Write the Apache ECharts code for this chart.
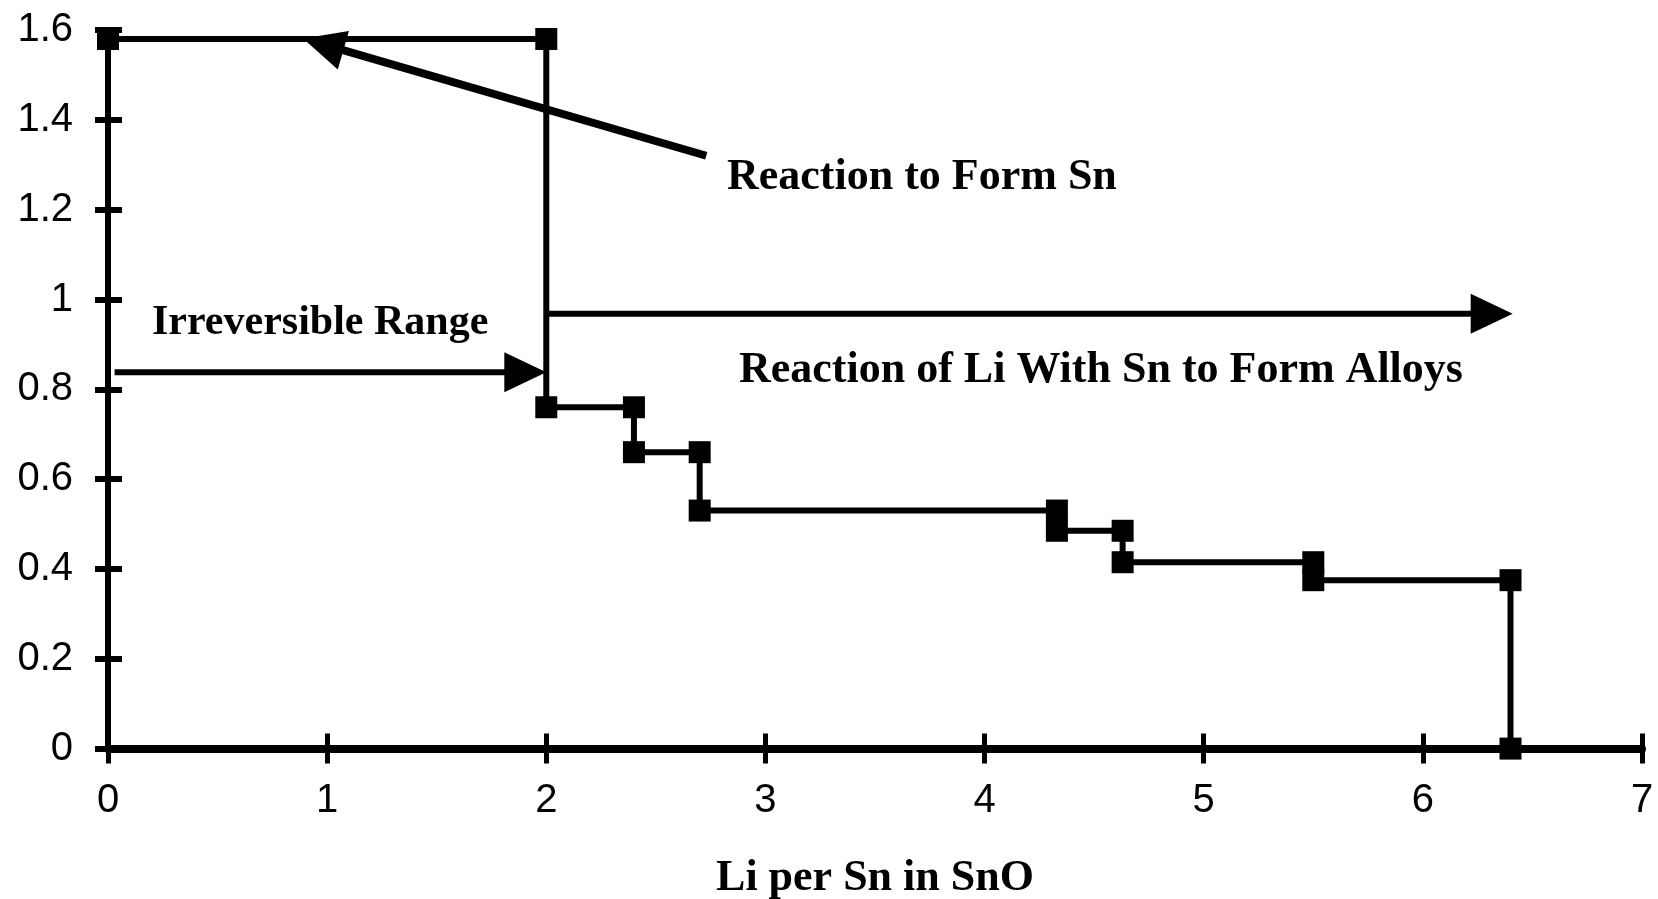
<!DOCTYPE html>
<html><head><meta charset="utf-8">
<script src="https://cdn.jsdelivr.net/npm/echarts@6/dist/echarts.min.js"></script>
<style>html,body{margin:0;padding:0;background:#fff}#chart{width:1658px;height:899px}</style>
</head><body><div id="chart"></div>
<script>
// ---- data ----
const liPerSn   = [0, 2, 2, 2.4, 2.4, 2.7, 2.7, 4.33, 4.33, 4.63, 4.63, 5.5, 5.5, 6.4, 6.4];
const potential = [1.58, 1.58, 0.76, 0.76, 0.66, 0.66, 0.53, 0.53, 0.485, 0.485, 0.415, 0.415, 0.375, 0.375, 0];
const xRange = [0, 7, 1];      // min, max, interval
const yRange = [0, 1.6, 0.2];
const arrowTails = [[2.73, 1.32], [0.03, 0.838], [2.0, 0.968]];
const arrowTips  = [[0.89, 1.581], [2.0, 0.838], [6.41, 0.968]];
const annotationTexts = ['Reaction to Form Sn', 'Irreversible Range', 'Reaction of Li With Sn to Form Alloys'];
const xAxisTitle = 'Li per Sn in SnO';

// ---- styles ----
const arrowLineWidths = [8, 6, 6];
const HEAD_LEN = 42, HEAD_W = 40;
const serif = '"Liberation Serif", "Times New Roman", serif';
const sans = '"Liberation Sans", Arial, sans-serif';

const stepData = liPerSn.map((x, i) => [x, potential[i]]);
const arrowData = arrowTails.map((t, i) => [t[0], t[1], arrowTips[i][0], arrowTips[i][1]]);

function baseX(extra) {
  return Object.assign({type: 'value', min: xRange[0], max: xRange[1], interval: xRange[2],
    position: 'bottom', splitLine: {show: false}}, extra);
}
function baseY(extra) {
  return Object.assign({type: 'value', min: yRange[0], max: yRange[1], interval: yRange[2],
    position: 'left', splitLine: {show: false}}, extra);
}

const chart = echarts.init(document.getElementById('chart'), null, {renderer: 'canvas'});
chart.setOption({
  animation: false,
  backgroundColor: '#fff',
  grid: {left: 108, right: 16, top: 30, bottom: 150.4, containLabel: false, outerBoundsMode: 'none'},
  xAxis: [
    baseX({
      axisLine: {show: true, onZero: false, lineStyle: {color: '#000', width: 8}},
      axisTick: {show: true, length: 15, lineStyle: {color: '#000', width: 5}},
      axisLabel: {margin: 32, fontSize: 40, color: '#000', fontFamily: sans},
      name: xAxisTitle, nameLocation: 'middle', nameGap: 108,
      nameTextStyle: {fontSize: 44, fontWeight: 'bold', fontFamily: serif, color: '#000'}
    }),
    baseX({
      axisLine: {show: false, onZero: false},
      axisTick: {show: true, inside: true, length: 15, lineStyle: {color: '#000', width: 5}},
      axisLabel: {show: false}
    })
  ],
  yAxis: [
    baseY({
      axisLine: {show: true, onZero: false, lineStyle: {color: '#000', width: 6}},
      axisTick: {show: true, length: 13, lineStyle: {color: '#000', width: 6}},
      axisLabel: {margin: 35, fontSize: 40, color: '#000', fontFamily: sans}
    }),
    baseY({
      axisLine: {show: false, onZero: false},
      axisTick: {show: true, inside: true, length: 14, lineStyle: {color: '#000', width: 6}},
      axisLabel: {show: false}
    })
  ],
  series: [
    {
      type: 'line', data: stepData, xAxisIndex: 0, yAxisIndex: 0,
      symbol: 'rect', symbolSize: [22, 22], showAllSymbol: true,
      lineStyle: {color: '#000', width: 6}, itemStyle: {color: '#000'},
      silent: true, z: 5
    },
    {
      type: 'custom', coordinateSystem: 'cartesian2d', xAxisIndex: 0, yAxisIndex: 0,
      data: arrowData, encode: {x: [0, 2], y: [1, 3]}, clip: false, silent: true, z: 6,
      renderItem: function (params, api) {
        const p1 = api.coord([api.value(0), api.value(1)]);
        const p2 = api.coord([api.value(2), api.value(3)]);
        const dx = p2[0] - p1[0], dy = p2[1] - p1[1];
        const len = Math.sqrt(dx * dx + dy * dy);
        const ux = dx / len, uy = dy / len;
        const nx = -uy, ny = ux;
        const bx = p2[0] - ux * HEAD_LEN, by = p2[1] - uy * HEAD_LEN;
        const lw = arrowLineWidths[params.dataIndex];
        return {
          type: 'group',
          children: [
            {type: 'line', shape: {x1: p1[0], y1: p1[1], x2: bx + ux * 4, y2: by + uy * 4},
             style: {stroke: '#000', lineWidth: lw}},
            {type: 'polygon', shape: {points: [
               [p2[0], p2[1]],
               [bx + nx * HEAD_W / 2, by + ny * HEAD_W / 2],
               [bx - nx * HEAD_W / 2, by - ny * HEAD_W / 2]]},
             style: {fill: '#000'}}
          ]
        };
      }
    }
  ],
  graphic: [
    {type: 'text', x: 727, y: 178, style: {text: annotationTexts[0], font: 'bold 44px ' + serif, fill: '#000', align: 'left', verticalAlign: 'middle'}},
    {type: 'text', x: 152, y: 323, style: {text: annotationTexts[1], font: 'bold 42px ' + serif, fill: '#000', align: 'left', verticalAlign: 'middle'}},
    {type: 'text', x: 739, y: 371, style: {text: annotationTexts[2], font: 'bold 44px ' + serif, fill: '#000', align: 'left', verticalAlign: 'middle'}}
  ]
});
</script></body></html>
